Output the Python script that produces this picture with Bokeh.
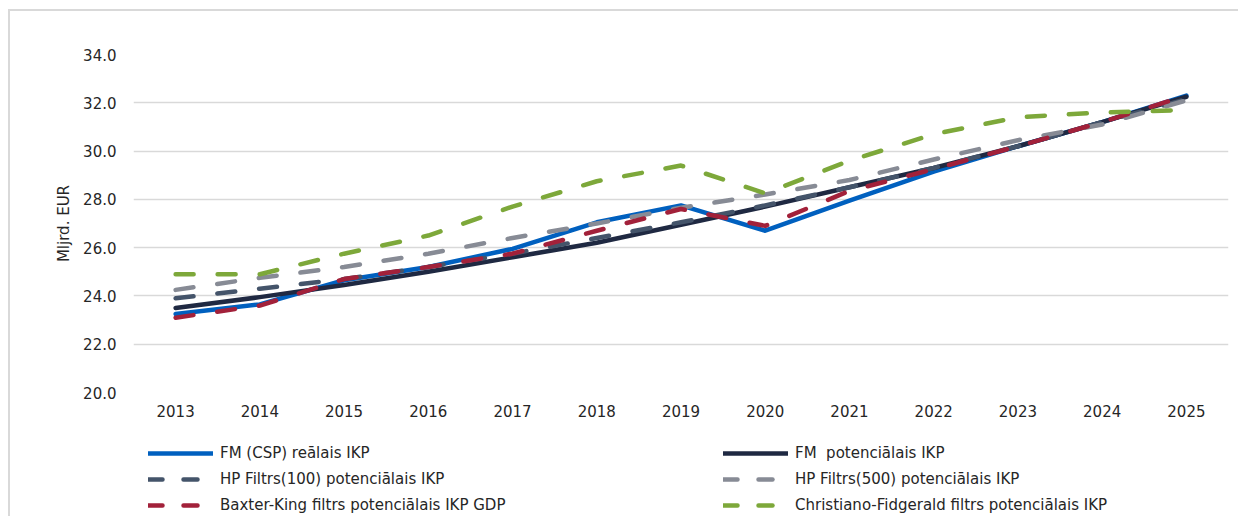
from bokeh.plotting import figure
from bokeh.layouts import column, row
from bokeh.models import Range1d, FactorRange, Legend, LegendItem, FixedTicker, CustomJSTickFormatter, Spacer
from bokeh.embed import file_html
from bokeh.resources import INLINE

years = [str(y) for y in range(2013, 2026)]
fm_real = [23.25, 23.65, 24.65, 25.2, 25.95, 27.05, 27.75, 26.7, 27.95, 29.15, 30.2, 31.2, 32.3]
fm_pot = [23.5, 23.95, 24.45, 25.0, 25.6, 26.2, 26.95, 27.7, 28.5, 29.3, 30.2, 31.2, 32.25]
hp100 = [23.9, 24.3, 24.7, 25.2, 25.75, 26.4, 27.05, 27.75, 28.5, 29.3, 30.2, 31.2, 32.15]
hp500 = [24.25, 24.75, 25.2, 25.75, 26.4, 27.0, 27.65, 28.2, 28.8, 29.65, 30.45, 31.1, 32.1]
bk = [23.1, 23.6, 24.7, 25.2, 25.75, 26.7, 27.6, 26.9, 28.35, 29.25, 30.2, 31.2, 32.3]
cf = [24.9, 24.9, 25.75, 26.5, 27.7, 28.75, 29.4, 28.25, 29.6, 30.7, 31.4, 31.6, 31.7]

labels = ["FM (CSP) reālais IKP", "FM  potenciālais IKP",
          "HP Filtrs(100) potenciālais IKP", "HP Filtrs(500) potenciālais IKP",
          "Baxter-King filtrs potenciālais IKP GDP", "Christiano-Fidgerald filtrs potenciālais IKP"]
y_ticks = [20, 22, 24, 26, 28, 30, 32, 34]

FONT = "DejaVu Sans"
TXT = "#262626"
BORDER = "2px solid #d9d9d9"

# ---- chart ----
p = figure(width=1230, height=421, output_backend="svg", toolbar_location=None,
           x_range=FactorRange(*years, range_padding=0), y_range=Range1d(20, 34),
           min_border_left=123, min_border_right=12, min_border_top=43, min_border_bottom=40)
p.styles = {"border-left": BORDER, "border-top": BORDER}
p.outline_line_color = None
p.background_fill_color = "white"
p.border_fill_color = "white"

p.xgrid.grid_line_color = None
p.ygrid.grid_line_color = "#d9d9d9"
p.ygrid.grid_line_width = 1.5

p.yaxis.ticker = FixedTicker(ticks=y_ticks)
p.yaxis.formatter = CustomJSTickFormatter(code="return tick.toFixed(1);")
for ax in (p.xaxis[0], p.yaxis[0]):
    ax.axis_line_color = None
    ax.major_tick_line_color = None
    ax.minor_tick_line_color = None
    ax.major_tick_out = 0
    ax.major_tick_in = 0
    ax.major_label_text_font = FONT
    ax.major_label_text_font_size = "15px"
    ax.major_label_text_color = TXT
p.yaxis.major_label_standoff = 17
p.xaxis.major_label_standoff = 12
p.yaxis.axis_label = "Mljrd. EUR"
p.yaxis.axis_label_text_font = FONT
p.yaxis.axis_label_text_font_size = "15px"
p.yaxis.axis_label_text_font_style = "normal"
p.yaxis.axis_label_text_color = TXT
p.yaxis.axis_label_standoff = 7

DASH = "18 24"
LEG_DASH = "14 21"
specs = [
    (fm_real, "#0060BF", 4.5, "solid"),
    (fm_pot, "#1F2942", 4.5, "solid"),
    (hp100, "#44546A", 4.5, DASH),
    (hp500, "#878B95", 4.5, DASH),
    (bk, "#A2213A", 4.5, DASH),
    (cf, "#7DA83A", 4.5, DASH),
]
for vals, col, w, dash in specs:
    p.line(years, vals, line_color=col, line_width=w, line_dash=dash,
           line_cap="round", line_join="round")

# ---- legend strip: same series, kept outside its visible range so only the keys show ----
lp = figure(width=1230, height=86, output_backend="svg", toolbar_location=None,
            x_range=Range1d(0, 1), y_range=Range1d(0, 1),
            x_axis_location=None, y_axis_location=None, min_border=0)
lp.styles = {"border-left": BORDER}
lp.outline_line_color = None
lp.grid.visible = False
lp.background_fill_color = "white"
lp.border_fill_color = "white"

keys = []
for vals, col, w, dash in specs:
    keys.append(lp.line(x=list(range(len(years))), y=vals, line_color=col, line_width=w,
                        line_dash=(LEG_DASH if dash != "solid" else "solid"),
                        line_cap="round"))

def mk_legend(idx, x, y):
    lg = Legend(items=[LegendItem(label=labels[i], renderers=[keys[i]]) for i in idx],
                location=(x, y), orientation="vertical",
                glyph_width=65, glyph_height=20, label_height=20, spacing=6,
                label_standoff=7, padding=0, margin=0,
                border_line_color=None, background_fill_alpha=0,
                label_text_font=FONT, label_text_font_size="15px", label_text_color=TXT)
    lp.add_layout(lg, "center")

mk_legend([0, 2, 4], 15, 1)
mk_legend([1, 3, 5], 590, 1)

layout = column(Spacer(height=9), row(Spacer(width=8), column(p, lp)))
open("out.html", "w").write(file_html(layout, INLINE))
